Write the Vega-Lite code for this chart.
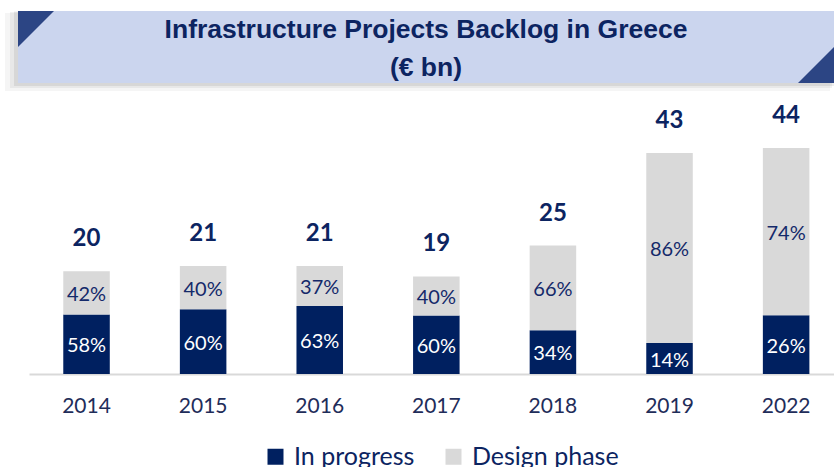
{
  "$schema": "https://vega.github.io/schema/vega-lite/v6.json",
  "padding": {"left": 5, "top": 11, "right": 0, "bottom": 0},
  "background": "white",
  "spacing": 2,
  "config": {"view": {"stroke": null}, "font": "Lato"},
  "datasets": {
    "backlog": [
      {"year": "2014", "phase": "In progress", "value": 11.6, "pct": "58%", "total": 20},
      {"year": "2014", "phase": "Design phase", "value": 8.4, "pct": "42%", "total": 20},
      {"year": "2015", "phase": "In progress", "value": 12.6, "pct": "60%", "total": 21},
      {"year": "2015", "phase": "Design phase", "value": 8.4, "pct": "40%", "total": 21},
      {"year": "2016", "phase": "In progress", "value": 13.23, "pct": "63%", "total": 21},
      {"year": "2016", "phase": "Design phase", "value": 7.77, "pct": "37%", "total": 21},
      {"year": "2017", "phase": "In progress", "value": 11.4, "pct": "60%", "total": 19},
      {"year": "2017", "phase": "Design phase", "value": 7.6, "pct": "40%", "total": 19},
      {"year": "2018", "phase": "In progress", "value": 8.5, "pct": "34%", "total": 25},
      {"year": "2018", "phase": "Design phase", "value": 16.5, "pct": "66%", "total": 25},
      {"year": "2019", "phase": "In progress", "value": 6.02, "pct": "14%", "total": 43},
      {"year": "2019", "phase": "Design phase", "value": 36.98, "pct": "86%", "total": 43},
      {"year": "2022", "phase": "In progress", "value": 11.44, "pct": "26%", "total": 44},
      {"year": "2022", "phase": "Design phase", "value": 32.56, "pct": "74%", "total": 44}
    ]
  },
  "vconcat": [
    {
      "width": 805,
      "height": 72,
      "data": {"values": [{"title": ["Infrastructure Projects Backlog in Greece", "(€ bn)"]}]},
      "layer": [
        {
          "mark": {"type": "rect", "color": "#000000", "opacity": 0.04},
          "encoding": {
            "x": {"datum": -24, "type": "quantitative", "scale": {"domain": [0, 805], "nice": false, "zero": false}, "axis": null},
            "x2": {"datum": 801},
            "y": {"datum": 2, "type": "quantitative", "scale": {"domain": [0, 72], "reverse": true, "nice": false, "zero": false}, "axis": null},
            "y2": {"datum": 80}
          }
        },
        {
          "mark": {"type": "rect", "color": "#000000", "opacity": 0.05},
          "encoding": {
            "x": {"datum": -19, "type": "quantitative"},
            "x2": {"datum": 803},
            "y": {"datum": 1, "type": "quantitative"},
            "y2": {"datum": 77}
          }
        },
        {
          "mark": {"type": "rect", "color": "#000000", "opacity": 0.07},
          "encoding": {
            "x": {"datum": -15, "type": "quantitative"},
            "x2": {"datum": 805},
            "y": {"datum": 0.5, "type": "quantitative"},
            "y2": {"datum": 75}
          }
        },
        {
          "mark": {"type": "rect", "color": "#cbd5ee"},
          "encoding": {
            "x": {"datum": -11, "type": "quantitative"},
            "x2": {"datum": 805},
            "y": {"datum": 0, "type": "quantitative"},
            "y2": {"datum": 72}
          }
        },
        {
          "mark": {"type": "point", "filled": true, "color": "#2c4584", "opacity": 1, "shape": "M-1,-1L1,-1L-1,1Z", "size": 1296, "strokeWidth": 0},
          "encoding": {
            "x": {"datum": 7, "type": "quantitative"},
            "y": {"datum": 18, "type": "quantitative"}
          }
        },
        {
          "mark": {"type": "point", "filled": true, "color": "#2c4584", "opacity": 1, "shape": "M1,1L-1,1L1,-1Z", "size": 1296, "strokeWidth": 0},
          "encoding": {
            "x": {"datum": 787, "type": "quantitative"},
            "y": {"datum": 54, "type": "quantitative"}
          }
        },
        {
          "mark": {"type": "text", "font": "Liberation Sans", "fontWeight": "bold", "fontSize": 26.5, "color": "#0c2461", "align": "center", "baseline": "middle", "lineHeight": 38},
          "encoding": {
            "x": {"datum": 397, "type": "quantitative"},
            "y": {"datum": 19, "type": "quantitative"},
            "text": {"field": "title"}
          }
        }
      ]
    },
    {
      "width": 805,
      "height": 281,
      "data": {"name": "backlog"},
      "transform": [
        {"stack": "value", "groupby": ["year"], "sort": [{"field": "phase", "order": "descending"}], "as": ["v0", "v1"]},
        {"calculate": "(datum.v0 + datum.v1) / 2", "as": "mid"}
      ],
      "encoding": {
        "x": {
          "field": "year",
          "type": "nominal",
          "sort": null,
          "scale": {"paddingInner": 0.601, "paddingOuter": 0.2525, "align": 0.582},
          "axis": {"title": null, "labelAngle": 0, "ticks": false, "domainColor": "#d9d9d9", "domainWidth": 2, "labelFont": "Lato", "labelFontSize": 21, "labelColor": "#1f2d5a", "labelPadding": 21}
        }
      },
      "layer": [
        {
          "mark": {"type": "bar"},
          "encoding": {
            "y": {
              "field": "v0",
              "type": "quantitative",
              "scale": {"domain": [0, 54.7], "nice": false},
              "axis": null
            },
            "y2": {"field": "v1"},
            "color": {
              "field": "phase",
              "type": "nominal",
              "scale": {"domain": ["In progress", "Design phase"], "range": ["#002060", "#d9d9d9"]},
              "legend": {"title": null, "orient": "none", "legendX": 234, "legendY": 433, "direction": "horizontal", "symbolType": "square", "symbolSize": 256, "symbolStrokeWidth": 0, "labelFont": "Lato", "labelFontSize": 25, "labelColor": "#0c2461", "labelOffset": 6, "columnPadding": 26, "labelLimit": 300}
            }
          }
        },
        {
          "mark": {"type": "text", "fontSize": 20, "font": "Lato", "baseline": "middle", "align": "center", "dy": 2},
          "encoding": {
            "y": {"field": "mid", "type": "quantitative"},
            "text": {"field": "pct"},
            "color": {"condition": {"test": "datum.phase === 'In progress'", "value": "white"}, "value": "#14296a"}
          }
        },
        {
          "transform": [{"filter": "datum.phase === 'Design phase'"}],
          "mark": {"type": "text", "fontSize": 24, "font": "Lato", "fontWeight": "bold", "baseline": "middle", "align": "center", "dy": -32, "color": "#0c2461"},
          "encoding": {
            "y": {"field": "total", "type": "quantitative"},
            "text": {"field": "total"}
          }
        }
      ]
    }
  ]
}
